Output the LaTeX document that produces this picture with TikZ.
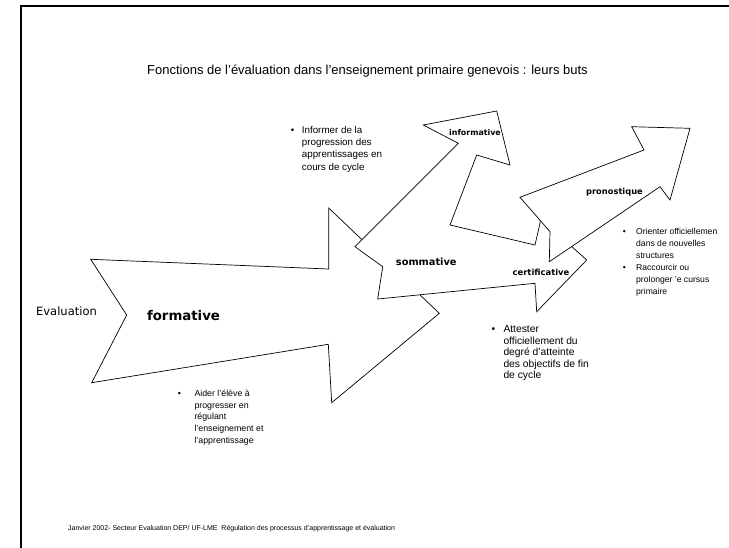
\documentclass[tikz,border=0pt]{standalone}
\usepackage{fontspec}
\setmainfont{Liberation Sans}
\newfontfamily\comicfont{DejaVu Sans}
\newcommand{\lines}[1]{\begin{tabular}[t]{@{}l@{}}#1\end{tabular}}
\begin{document}
\begin{tikzpicture}[x=1pt,y=-1pt,
  arrowshape/.style={draw=black, fill=white, line width=0.7pt, line join=miter},
  lbl/.style={inner sep=0pt, anchor=base},
  bul/.style={inner sep=0pt, anchor=base},
  btext/.style={inner sep=0pt, anchor=base west},
]
\fill[white] (0,0) rectangle (729,547);
\useasboundingbox (0,0) rectangle (729,547);
% frame
\draw[line width=2.5pt] (21,550) -- (21,6) -- (732,6);

% title
\node[inner sep=0pt, anchor=base, font=\fontsize{13}{15}\selectfont] (title) at (367.5,74)
  {Fonctions de l'évaluation dans l'enseignement primaire genevois : leurs buts};

% formative arrow
\draw[arrowshape] (90.7,259.3) -- (328.7,269) -- (328.7,208) -- (439.3,313.3)
  -- (331.7,402.7) -- (328.3,344.3) -- (91.7,382.7) -- (126.7,315) -- cycle;

% sommative / informative / certificative arrow
\draw[arrowshape] (355,246.7) -- (458.3,143.3) -- (423.3,125) -- (496.7,111)
  -- (510,165) -- (476.7,155) -- (450,225) -- (535,245) -- (540,223.3)
  -- (541,212) -- (560,236) -- (586.7,260) -- (536.7,311.7) -- (535,283.3)
  -- (377.7,299) -- (382.7,266.7) -- cycle;

% pronostique arrow
\draw[arrowshape] (520,197.3) -- (644,150) -- (631.7,126.7) -- (690,128.3)
  -- (670,200) -- (660,186.7) -- (549.3,261.7) -- (550,231.7) -- cycle;

% arrow labels
\node[lbl, font=\comicfont\fontsize{11.5}{13}\selectfont] (eval) at (66.5,315) {Evaluation};
\node[lbl, font=\comicfont\bfseries\fontsize{13.3}{15}\selectfont] (form) at (183.5,320.3) {formative};
\node[lbl, font=\comicfont\bfseries\fontsize{9.8}{11}\selectfont] (somm) at (426.3,265.8) {sommative};
\node[lbl, font=\comicfont\bfseries\fontsize{7.9}{9}\selectfont] (info) at (475,135.8) {informative};
\node[lbl, font=\comicfont\bfseries\fontsize{8.3}{9}\selectfont] (prono) at (614.5,194.4) {pronostique};
\node[lbl, font=\comicfont\bfseries\fontsize{8.4}{9}\selectfont] (certif) at (541,275) {certificative};

% bullet texts
\node[bul, font=\fontsize{9.8}{12.2}\selectfont] (b1) at (292.7,133.5) {\textbullet};
\node[btext, font=\fontsize{9.8}{12.2}\selectfont] (t1) at (301.7,133.5)
  {\lines{Informer de la\\progression des\\apprentissages en\\cours de cycle}};

\node[bul, font=\fontsize{8.8}{11.7}\selectfont] (b2) at (179.3,396.5) {\textbullet};
\node[btext, font=\fontsize{8.8}{11.7}\selectfont] (t2) at (194.3,396.5)
  {\lines{Aider l'élève à\\progresser en\\régulant\\l'enseignement et\\l'apprentissage}};

\node[bul, font=\fontsize{10.3}{11.6}\selectfont] (b3) at (493.3,332.5) {\textbullet};
\node[btext, font=\fontsize{10.3}{11.6}\selectfont] (t3) at (503.3,332.5)
  {\lines{Attester\\officiellement du\\degré d'atteinte\\des objectifs de fin\\de cycle}};

\node[bul, font=\fontsize{8.6}{12.2}\selectfont] (b4) at (624.3,234) {\textbullet};
\node[btext, font=\fontsize{8.6}{12.2}\selectfont] (t4) at (636,234)
  {\lines{Orienter officiellemen\\dans de nouvelles\\structures}};
\node[bul, font=\fontsize{8.6}{12.2}\selectfont] (b5) at (624.3,270.5) {\textbullet};
\node[btext, font=\fontsize{8.6}{12.2}\selectfont] (t5) at (636,270.5)
  {\lines{Raccourcir ou\\prolonger 'e cursus\\primaire}};

% footer
\node[inner sep=0pt, anchor=base west, font=\fontsize{7}{8}\selectfont] (footer) at (68,530.5)
  {Janvier 2002- Secteur Evaluation DEP/ UF-LME\ \ Régulation des processus d'apprentissage et évaluation};
\end{tikzpicture}
\end{document}
